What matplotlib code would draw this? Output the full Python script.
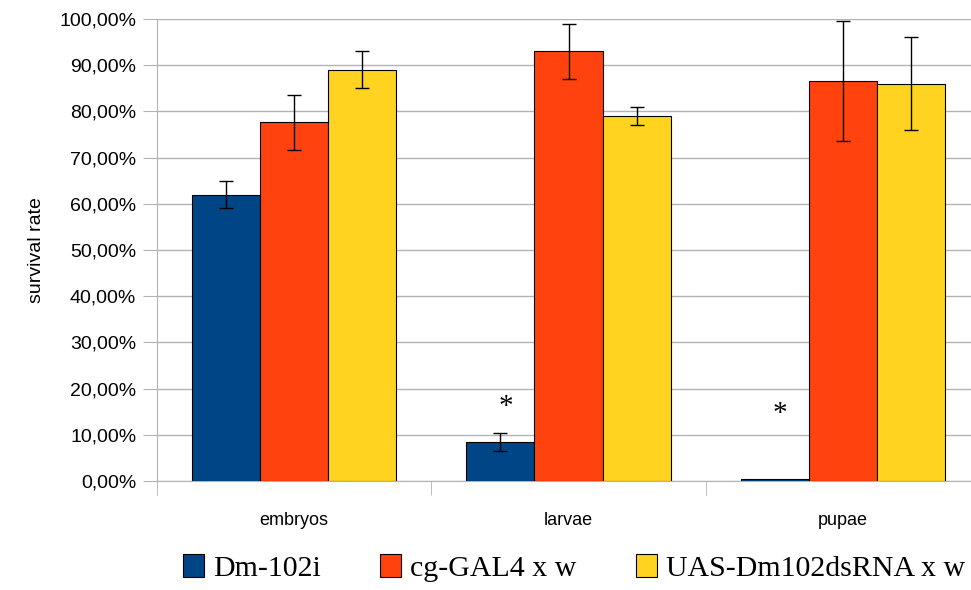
import matplotlib.pyplot as plt
from matplotlib.ticker import FuncFormatter, FixedLocator
import numpy as np

stages = ["embryos", "larvae", "pupae"]
series = ["Dm-102i", "cg-GAL4 x w", "UAS-Dm102dsRNA x w"]
dm102i = [62.0, 8.4, 0.4]
dm102i_err = [3.0, 2.0, 0.0]
cg_gal4 = [77.6, 93.0, 86.6]
cg_gal4_err = [6.0, 6.0, 13.0]
uas = [89.0, 79.0, 86.0]
uas_err = [4.0, 2.0, 10.0]
# significance marks above Dm-102i bars (stage index, height)
stars = [(1, 16.0), (2, 14.5)]

colors = ["#004586", "#ff420e", "#ffd320"]
grid_col = "#b3b3b3"

fig = plt.figure(figsize=(9.71, 5.90), dpi=100)
ax = fig.add_axes([157 / 971, 109 / 590, 823 / 971, 462 / 590])

x = np.arange(len(stages))
w = 0.248
values = [dm102i, cg_gal4, uas]
errs = [dm102i_err, cg_gal4_err, uas_err]
handles = []
for i in range(3):
    yerr = np.array(errs[i])
    b = ax.bar(x + (i - 1) * w, values[i], w, color=colors[i], edgecolor="black",
               linewidth=0.8, label=series[i], zorder=3)
    handles.append(b)
    mask = yerr > 0
    ax.errorbar((x + (i - 1) * w)[mask], np.array(values[i])[mask], yerr=yerr[mask],
                fmt="none", ecolor="black", elinewidth=1, capsize=5, capthick=1, zorder=4)

for idx, h in stars:
    ax.text(idx - w + 0.02, h, "*", ha="center", va="center", fontsize=21,
            family="Liberation Serif", zorder=5)

ax.set_xlim(-0.5, 2.5)
ax.set_ylim(0, 100)
ax.set_yticks(np.arange(0, 101, 10))
ax.yaxis.set_major_formatter(FuncFormatter(lambda v, p: f"{v:.2f}%".replace(".", ",")))
ax.set_xticks(x)
ax.set_xticklabels(stages)
ax.xaxis.set_minor_locator(FixedLocator([-0.5, 0.5, 1.5]))
ax.tick_params(axis="x", which="major", length=0, pad=22, labelsize=13)
ax.tick_params(axis="x", which="minor", length=10, color=grid_col, direction="out")
ax.tick_params(axis="y", length=10, color=grid_col, direction="out", labelsize=14, pad=5)
for lab in ax.get_xticklabels() + ax.get_yticklabels():
    lab.set_family("Liberation Sans")

ax.grid(axis="y", color=grid_col, linewidth=1, zorder=0)
ax.set_axisbelow(True)
for s in ["top", "right"]:
    ax.spines[s].set_visible(False)
for s in ["left", "bottom"]:
    ax.spines[s].set_color(grid_col)

ax.set_ylabel("survival rate", fontsize=14, family="Liberation Sans", labelpad=10)

fig.legend(handles=handles, labels=series, loc="center left",
           bbox_to_anchor=(183 / 971, 22 / 590), ncol=3, frameon=False,
           prop={"family": "Liberation Serif", "size": 21.5},
           handlelength=0.7, handleheight=0.8, handletextpad=0.3,
           columnspacing=2.0, borderpad=0, borderaxespad=0)

fig.savefig("out.png", dpi=100)
